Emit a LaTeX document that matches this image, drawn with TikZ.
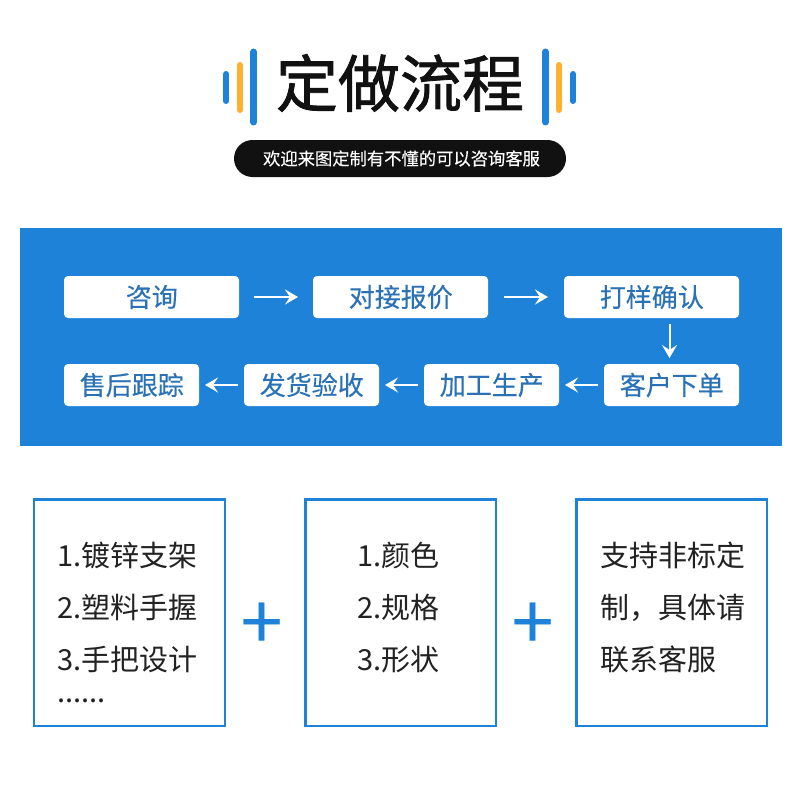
\documentclass[tikz,border=0pt]{standalone}
\usepackage{fontspec}
\setmainfont{Noto Sans CJK SC}
\newfontface\titlefont{Noto Sans CJK SC}[FakeBold=1.3]
\newfontface\medfont{Noto Sans CJK SC}[FakeBold=0.25]
\usepackage{color}
\usetikzlibrary{positioning,arrows.meta}
\definecolor{panelblue}{HTML}{1E82D9}
\definecolor{textblue}{HTML}{2A72B5}
\definecolor{baramber}{HTML}{FFB02E}
\definecolor{inkblack}{HTML}{111111}
\definecolor{listgrey}{HTML}{222222}
\newcommand{\lastline}{\rule[-13pt]{0pt}{13pt}}

\begin{document}
\begin{tikzpicture}[x=1pt, y=-1pt, inner sep=0pt, outer sep=0pt]
	\tikzstyle{bluebar} = [draw=panelblue, line cap=round];
	\tikzstyle{amberbar} = [draw=baramber, line width=6pt, line cap=round];
	\tikzstyle{stepwide} = [rectangle, fill=white, rounded corners=4pt, minimum width=175pt, minimum height=42pt, text=textblue, font=\fontsize{26}{26}\medfont, execute at begin node={\hspace*{0.6pt}}];
	\tikzstyle{stepnarrow} = [stepwide, minimum width=135pt];
	\tikzstyle{flow} = [draw=white, line width=2pt, -{Stealth[length=13pt, width=15pt, inset=5pt]}];
	\tikzstyle{listbox} = [rectangle, draw=panelblue, line width=2.3pt, minimum width=190.4pt, minimum height=226.5pt, align=left, text=listgrey, font=\fontsize{29}{52}\selectfont];
	\tikzstyle{plus} = [text=panelblue, font=\fontsize{75}{75}\medfont];

	\useasboundingbox (0,0) rectangle (800,800);
	\fill[white] (0,0) rectangle (800,800);

	% title
	\node[text=inkblack, font=\fontsize{62}{62}\titlefont](title) at (400,83){定做流程};
	\foreach \xa/\ya/\yb/\wd in {226/74/101/6, 253.5/52/122/7, 545.5/52/122/7, 573/74/101/6}
		\draw[bluebar, line width=\wd pt] (\xa,\ya) -- (\xa,\yb);
	\foreach \xa in {240, 559}
		\draw[amberbar] (\xa,65) -- (\xa,110);
	\node[fill=inkblack, rounded corners=18.5pt, minimum width=332pt, minimum height=37pt, text=white, font=\fontsize{17.3}{17.3}\medfont](subtitle) at (400,158.5){\hspace*{3pt}欢迎来图定制有不懂的可以咨询客服};

	% process panel
	\fill[panelblue] (20,228) rectangle (782,446);
	\node[stepwide](consult) at (151.5,297){咨询};
	\node[stepwide, right = 74pt of consult](quote){对接报价};
	\node[stepwide, right = 76pt of quote](sample){打样确认};
	\node[stepnarrow](order) at (671.5,385){客户下单};
	\node[stepnarrow, left = 45pt of order](produce){加工生产};
	\node[stepnarrow, left = 45pt of produce](deliver){发货验收};
	\node[stepnarrow, left = 45pt of deliver](service){售后跟踪};

	\path (consult) edge[flow, shorten <=15pt, shorten >=15pt] (quote)
		(quote) edge[flow, shorten <=16pt, shorten >=16pt] (sample)
		([xshift=-2pt]order.north |- sample.south) edge[flow, shorten <=6pt, shorten >=6pt] ([xshift=-2pt]order.north)
		(order) edge[flow, shorten <=6pt, shorten >=6pt] (produce)
		(produce) edge[flow, shorten <=6pt, shorten >=6pt] (deliver)
		(deliver) edge[flow, shorten <=6pt, shorten >=6pt] (service);

	% option boxes
	\node[listbox, inner xsep=23.3pt, text width=143.8pt](parts) at (129.5,612.6){1.镀锌支架\\2.塑料手握\\3.手把设计\lastline};
	\node[listbox, inner xsep=51.8pt, text width=86.8pt, right = 80.7pt of parts](colour){1.颜色\\2.规格\\3.形状\lastline};
	\node[listbox, inner xsep=23.8pt, text width=142.8pt, right = 80.7pt of colour](custom){支持非标定\\制，具体请\\联系客服\lastline};
	\node[anchor=west, text=listgrey, font=\fontsize{29}{29}\selectfont](dots) at (57,701){......};
	\node[plus](plus1) at (261.5,626){+};
	\node[plus](plus2) at (532.5,626){+};
\end{tikzpicture}
\end{document}
